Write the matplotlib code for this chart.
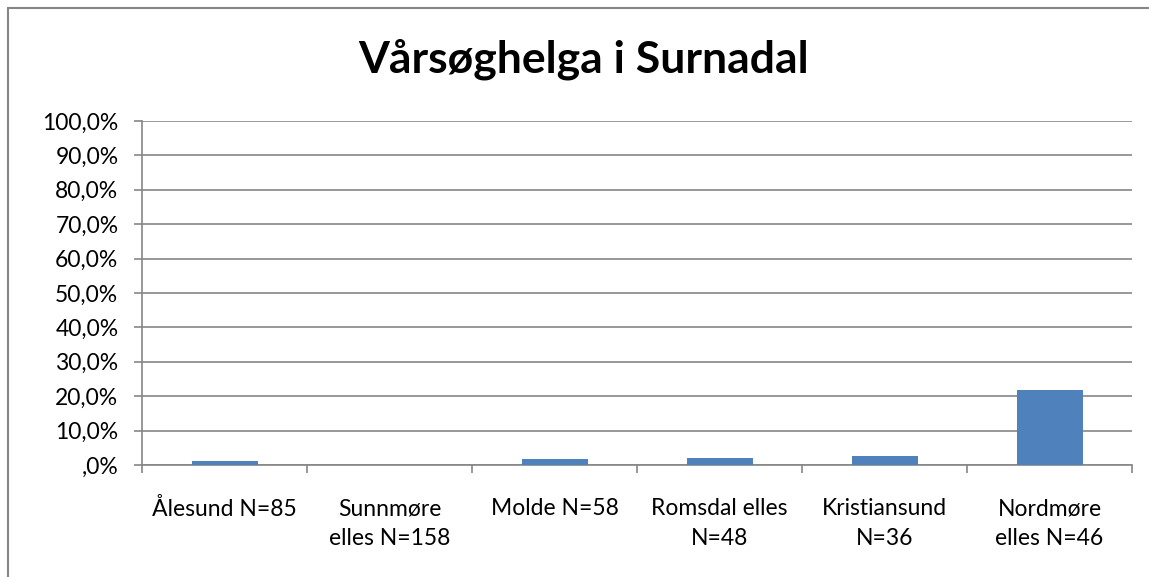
import matplotlib
matplotlib.use("Agg")
import matplotlib.pyplot as plt
from matplotlib.ticker import FuncFormatter, MultipleLocator, FixedLocator
from matplotlib.patches import Rectangle

categories = ["Ålesund N=85", "Sunnmøre\nelles N=158", "Molde N=58",
              "Romsdal elles\nN=48", "Kristiansund\nN=36", "Nordmøre\nelles N=46"]
values = [1.25, 0.0, 1.7, 2.1, 2.7, 21.7]
title = "Vårsøghelga i Surnadal"

plt.rcParams['font.family'] = ['Lato', 'DejaVu Sans']
W, H = 1149, 577
fig = plt.figure(figsize=(W/100, H/100), dpi=100)
ax = fig.add_axes([142/W, 1-465/H, (1132-142)/W, (465-121)/H])

x = list(range(len(categories)))
ax.bar(x, values, width=0.4, color="#4F81BD", zorder=3)
ax.set_xlim(-0.5, len(categories)-0.5)
ax.set_ylim(0, 100)
ax.yaxis.set_major_locator(MultipleLocator(10))
def fmt(v, p):
    s = f"{v:.1f}".replace(".", ",")
    if s.startswith("0,"):
        s = s[1:]
    return s + "%"
ax.yaxis.set_major_formatter(FuncFormatter(fmt))
ax.yaxis.grid(True, color="#868686", linewidth=1.2, zorder=0)
ax.set_xticks(x)
ax.set_xticklabels(categories, fontsize=16.5, linespacing=1.5)
ax.xaxis.set_minor_locator(FixedLocator([i - 0.5 for i in range(len(categories)+1)]))
ax.tick_params(axis='x', which='major', length=0, pad=24)
ax.tick_params(axis='x', which='minor', length=6, color="#868686", width=1.2)
ax.tick_params(axis='y', length=6, color="#868686", width=1.2, labelsize=16.5, pad=11)
for s in ["top", "right"]:
    ax.spines[s].set_visible(False)
for s in ["left", "bottom"]:
    ax.spines[s].set_color("#868686")
    ax.spines[s].set_linewidth(1.2)

fig.text(584/W, 1-73/H, title, ha="center", va="baseline", fontsize=32, fontweight="bold")
fig.patches.append(Rectangle((8/W, -0.1), 1.2, 1-8/H+0.1, transform=fig.transFigure,
                             fill=False, edgecolor="#868686", linewidth=1.5))
fig.savefig("out.png", dpi=100)
